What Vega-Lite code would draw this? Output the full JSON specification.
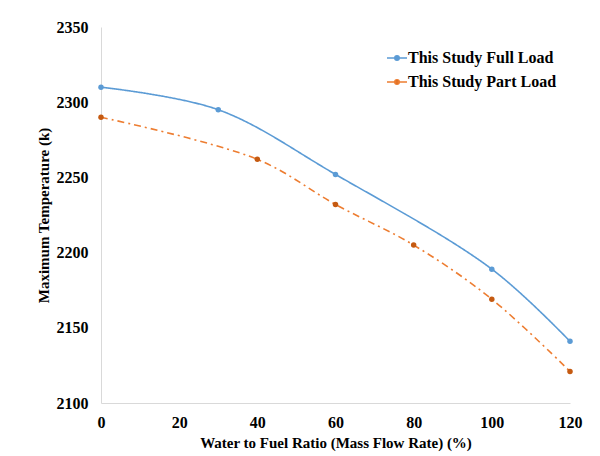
{
  "$schema": "https://vega.github.io/schema/vega-lite/v6.json",
  "autosize": "none",
  "width": 469,
  "height": 376,
  "padding": {"left": 101, "top": 27, "right": 30, "bottom": 53},
  "background": "white",
  "config": {
    "view": {"stroke": null},
    "font": "Liberation Serif, Times New Roman, serif",
    "axis": {
      "labelFont": "Liberation Serif, Times New Roman, serif",
      "titleFont": "Liberation Serif, Times New Roman, serif",
      "labelFontWeight": "bold",
      "titleFontWeight": "bold",
      "labelFontSize": 16,
      "titleFontSize": 15,
      "labelColor": "#000000",
      "titleColor": "#000000",
      "grid": false,
      "ticks": false,
      "domainColor": "#d9d9d9",
      "domainWidth": 1
    }
  },
  "data": {
    "values": [
      {"series": "This Study Full Load", "ratio": 0, "temp": 2310},
      {"series": "This Study Full Load", "ratio": 30, "temp": 2295},
      {"series": "This Study Full Load", "ratio": 60, "temp": 2252},
      {"series": "This Study Full Load", "ratio": 100, "temp": 2189},
      {"series": "This Study Full Load", "ratio": 120, "temp": 2141},
      {"series": "This Study Part Load", "ratio": 0, "temp": 2290},
      {"series": "This Study Part Load", "ratio": 40, "temp": 2262},
      {"series": "This Study Part Load", "ratio": 60, "temp": 2232},
      {"series": "This Study Part Load", "ratio": 80, "temp": 2205},
      {"series": "This Study Part Load", "ratio": 100, "temp": 2169},
      {"series": "This Study Part Load", "ratio": 120, "temp": 2121}
    ]
  },
  "encoding": {
    "x": {
      "field": "ratio",
      "type": "quantitative",
      "scale": {"domain": [0, 120], "nice": false},
      "axis": {"values": [0, 20, 40, 60, 80, 100, 120], "format": "d", "title": "Water to Fuel Ratio (Mass Flow Rate) (%)", "labelPadding": 11, "titlePadding": 5, "labelFlush": false}
    },
    "y": {
      "field": "temp",
      "type": "quantitative",
      "scale": {"domain": [2100, 2350], "nice": false, "zero": false},
      "axis": {"values": [2100, 2150, 2200, 2250, 2300, 2350], "format": "d", "title": "Maximum Temperature (k)", "labelPadding": 13, "titlePadding": 5, "labelFlush": false}
    }
  },
  "layer": [
    {
      "mark": {"type": "line", "interpolate": "catmull-rom", "strokeWidth": 1.6},
      "encoding": {
        "color": {
          "field": "series",
          "type": "nominal",
          "scale": {"domain": ["This Study Full Load", "This Study Part Load"], "range": ["#5B9BD5", "#ED7D31"]},
          "legend": {
            "title": null,
            "orient": "none",
            "legendX": 285,
            "legendY": 20,
            "labelFont": "Liberation Serif, Times New Roman, serif",
            "labelFontWeight": "bold",
            "labelFontSize": 16,
            "labelColor": "#000000",
            "symbolType": "M-1,0L1,0M0.22,0A0.22,0.22,0,1,1,-0.22,0A0.22,0.22,0,1,1,0.22,0Z",
            "symbolSize": 400,
            "symbolStrokeWidth": 1.6,
            "rowPadding": 5,
            "labelOffset": 0,
            "encode": {"symbols": {"update": {"fill": {"signal": "datum.value === 'This Study Full Load' ? '#5B9BD5' : '#C55A11'"}}}}
          }
        },
        "strokeDash": {
          "field": "series",
          "type": "nominal",
          "scale": {"domain": ["This Study Full Load", "This Study Part Load"], "range": [[1, 0], [7, 4, 2, 4]]},
          "legend": null
        }
      }
    },
    {
      "mark": {"type": "point", "filled": true, "size": 30, "opacity": 1},
      "encoding": {
        "color": {
          "field": "series",
          "type": "nominal",
          "scale": {"domain": ["This Study Full Load", "This Study Part Load"], "range": ["#5B9BD5", "#C55A11"]},
          "legend": null
        }
      }
    }
  ],
  "resolve": {"scale": {"color": "independent"}}
}
